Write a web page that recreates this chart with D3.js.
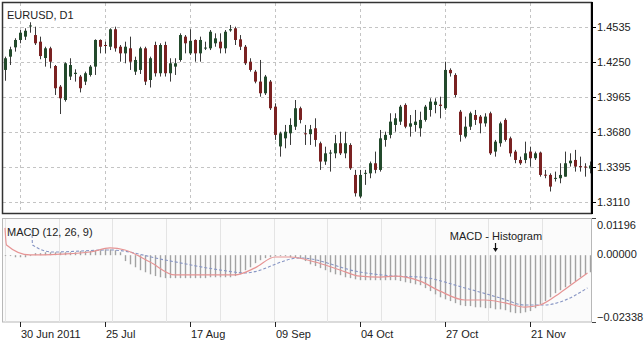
<!DOCTYPE html>
<html>
<head>
<meta charset="utf-8">
<script src="https://cdn.jsdelivr.net/npm/d3@7"></script>
<style>
  html, body { margin: 0; padding: 0; background: #fff; }
  text { font-family: "Liberation Sans", Arial, sans-serif; }
</style>
</head>
<body>
<svg id="chart" width="644" height="346"></svg>
<script>
// EURUSD daily candles, 27 Jun 2011 onwards (weekdays)
const open = [1.4183,1.4291,1.4367,1.4427,1.4454,1.4540,1.4467,1.4413,1.4280,1.4359,1.4215,1.4047,1.3938,1.4129,1.4150,1.4129,1.4088,1.4142,1.4210,1.4427,
  1.4386,1.4372,1.4514,1.4372,1.4318,1.4359,1.4169,1.4183,1.4359,1.4101,1.4386,1.4156,1.4386,1.4156,1.4210,1.4264,1.4454,1.4318,1.4427,1.4318,
  1.4359,1.4359,1.4400,1.4413,1.4359,1.4505,1.4522,1.4432,1.4372,1.4250,1.4169,1.4088,1.3993,1.4088,1.3884,1.3560,1.3626,1.3667,1.3721,1.3871,
  1.3667,1.3660,1.3708,1.3586,1.3437,1.3504,1.3504,1.3586,1.3504,1.3572,1.3328,1.3152,1.3340,1.3341,1.3423,1.3369,1.3613,1.3654,1.3735,1.3762,
  1.3898,1.3721,1.3735,1.3708,1.3776,1.3857,1.3898,1.3900,1.3871,1.4183,1.4142,1.3843,1.3640,1.3721,1.3816,1.3803,1.3748,1.3830,1.3518,1.3586,
  1.3776,1.3626,1.3518,1.3450,1.3450,1.3518,1.3464,1.3510,1.3330,1.3328,1.3298,1.3301,1.3314,1.3423,1.3450,1.3400,1.3396,1.3380];
const high = [1.4291,1.4372,1.4441,1.4508,1.4522,1.4571,1.4535,1.4454,1.4372,1.4372,1.4223,1.4060,1.4245,1.4278,1.4188,1.4142,1.4169,1.4223,1.4432,1.4432,
  1.4413,1.4522,1.4535,1.4386,1.4413,1.4454,1.4291,1.4372,1.4372,1.4291,1.4413,1.4400,1.4413,1.4278,1.4278,1.4481,1.4467,1.4514,1.4432,1.4454,
  1.4413,1.4508,1.4481,1.4481,1.4508,1.4549,1.4535,1.4467,1.4386,1.4278,1.4183,1.4264,1.4142,1.4101,1.3911,1.3680,1.3735,1.3789,1.3938,1.3884,
  1.3735,1.3735,1.3789,1.3599,1.3558,1.3532,1.3654,1.3680,1.3680,1.3586,1.3369,1.3369,1.3369,1.3437,1.3518,1.3694,1.3680,1.3830,1.3830,1.3898,
  1.3911,1.3816,1.3857,1.3843,1.3898,1.3952,1.3952,1.3965,1.4250,1.4196,1.4156,1.3857,1.3803,1.3843,1.3857,1.3816,1.3830,1.3843,1.3613,1.3762,
  1.3789,1.3640,1.3532,1.3477,1.3599,1.3558,1.3518,1.3518,1.3369,1.3341,1.3355,1.3423,1.3518,1.3504,1.3532,1.3477,1.3423,1.3437];
const low = [1.4095,1.4223,1.4332,1.4400,1.4427,1.4486,1.4386,1.4270,1.4210,1.4196,1.3979,1.3824,1.3925,1.4101,1.4088,1.4000,1.4060,1.4129,1.4142,1.4318,
  1.4318,1.4345,1.4332,1.4250,1.4237,1.4183,1.4142,1.4150,1.4060,1.4040,1.4129,1.4129,1.4129,1.4088,1.4142,1.4250,1.4318,1.4305,1.4250,1.4250,
  1.4345,1.4345,1.4372,1.4318,1.4318,1.4494,1.4386,1.4345,1.4223,1.4169,1.4074,1.3965,1.3979,1.3857,1.3613,1.3477,1.3545,1.3572,1.3694,1.3748,
  1.3572,1.3572,1.3558,1.3369,1.3410,1.3355,1.3464,1.3490,1.3464,1.3369,1.3152,1.3138,1.3247,1.3301,1.3341,1.3355,1.3558,1.3626,1.3680,1.3735,
  1.3708,1.3640,1.3680,1.3640,1.3762,1.3803,1.3830,1.3789,1.3857,1.4129,1.3960,1.3599,1.3626,1.3694,1.3735,1.3667,1.3721,1.3491,1.3477,1.3558,
  1.3599,1.3477,1.3423,1.3410,1.3423,1.3396,1.3450,1.3314,1.3301,1.3193,1.3274,1.3260,1.3314,1.3396,1.3355,1.3355,1.3314,1.3341];
const close = [1.4278,1.4351,1.4427,1.4486,1.4502,1.4545,1.4400,1.4296,1.4359,1.4250,1.4034,1.3952,1.4237,1.4223,1.4160,1.4034,1.4156,1.4210,1.4427,1.4372,
  1.4380,1.4514,1.4359,1.4318,1.4372,1.4250,1.4264,1.4359,1.4088,1.4278,1.4156,1.4386,1.4156,1.4237,1.4237,1.4467,1.4400,1.4420,1.4318,1.4427,
  1.4365,1.4494,1.4440,1.4359,1.4494,1.4515,1.4427,1.4372,1.4237,1.4183,1.4088,1.3993,1.4129,1.3871,1.3654,1.3667,1.3680,1.3735,1.3871,1.3776,
  1.3660,1.3700,1.3613,1.3437,1.3504,1.3510,1.3586,1.3504,1.3586,1.3382,1.3179,1.3328,1.3345,1.3423,1.3369,1.3626,1.3654,1.3762,1.3789,1.3884,
  1.3721,1.3748,1.3762,1.3776,1.3884,1.3925,1.3925,1.3890,1.4183,1.4156,1.3979,1.3654,1.3721,1.3830,1.3776,1.3748,1.3803,1.3504,1.3599,1.3748,
  1.3613,1.3504,1.3450,1.3423,1.3504,1.3464,1.3504,1.3328,1.3325,1.3233,1.3304,1.3328,1.3423,1.3444,1.3396,1.3392,1.3390,1.3405];

// MACD histogram, one bar per candle
const histogram = [-0.0003,-0.0003,-0.0007,-0.0007,-0.0007,-0.0003,
  0.0007,0.0007,0.0010,0.0010,0.0010,0.0010,0.0010,0.0010,0.0010,0.0014,0.0014,0.0014,0.0017,0.0017,
  0.0020,0.0020,0.0017,0.0010,
  -0.0020,-0.0031,-0.0041,-0.0051,-0.0058,-0.0065,
  -0.0071,-0.0075,-0.0078,-0.0078,-0.0078,-0.0078,-0.0078,-0.0078,-0.0078,-0.0078,-0.0078,-0.0075,
  -0.0075,-0.0075,-0.0075,-0.0075,-0.0071,
  -0.0065,-0.0051,-0.0041,-0.0027,-0.0017,-0.0010,
  -0.0007,-0.0003,-0.0003,-0.0003,-0.0007,
  -0.0007,-0.0010,-0.0020,-0.0031,-0.0037,-0.0044,-0.0051,-0.0058,-0.0065,-0.0068,-0.0075,-0.0078,-0.0082,-0.0085,
  -0.0085,-0.0085,-0.0085,-0.0085,-0.0085,-0.0085,-0.0085,-0.0088,-0.0092,
  -0.0095,-0.0099,-0.0102,-0.0112,-0.0122,-0.0133,-0.0143,-0.0150,-0.0156,-0.0163,-0.0170,
  -0.0173,-0.0173,-0.0177,-0.0177,
  -0.0180,-0.0180,-0.0184,-0.0184,
  -0.0187,-0.0194,-0.0197,
  -0.0197,-0.0194,-0.0190,
  -0.0180,-0.0167,-0.0156,-0.0143,-0.0129,-0.0119,-0.0109,-0.0099,-0.0088,-0.0075,-0.0065,-0.0058];

// MACD main line (read at candle positions)
const macdIdx = [1, 1.3, 6, 12, 18, 22, 25, 30, 35, 40, 47, 51, 55, 58, 63, 68, 72, 76, 79, 84, 88, 93, 97, 101, 105, 108, 112, 115, 117.5];
const macdVal = [0.0086, 0.0028, -0.0006, -0.0003, 0.0004, 0.0018, 0.0011, -0.0030, -0.0074, -0.0074, -0.0074, -0.0050, -0.0013, -0.0013,
  -0.0030, -0.0057, -0.0078, -0.0081, -0.0078, -0.0095, -0.0129, -0.0159, -0.0159, -0.0169, -0.0183, -0.0176, -0.0135, -0.0098, -0.0067];

// Signal line
const signalIdx = [6.4, 6.5, 10.6, 22, 33, 44, 49, 60, 72, 79, 84, 93, 100, 105, 109, 112, 117.5];
const signalVal = [0.0079, 0.0028, 0.0004, 0.0011, -0.0023, -0.0057, -0.0067, -0.0016, -0.0064, -0.0078, -0.0081, -0.0118, -0.0152,
  -0.0176, -0.0176, -0.0166, -0.0118];

// Axis ticks
const priceTicks = [1.4535, 1.4250, 1.3965, 1.3680, 1.3395, 1.3110];
const macdTicks = [0.01196, 0.0, -0.02338];
const dateTicks = ['2011-06-30', '2011-07-25', '2011-08-17', '2011-09-09', '2011-10-04', '2011-10-27', '2011-11-21'];

const svg = d3.select('#chart');
svg.append('rect').attr('width', 644).attr('height', 346).attr('fill', '#fff');

// Trading days (weekdays) from the first candle
const start = new Date(2011, 5, 27);
const dates = d3.timeDay.range(start, d3.timeDay.offset(start, 200))
  .filter(d => d.getDay() !== 0 && d.getDay() !== 6)
  .slice(0, open.length);
const fmtKey = d3.timeFormat('%Y-%m-%d');
const tickIdx = dateTicks.map(t => dates.findIndex(d => fmtKey(d) === t));

const x = d3.scaleLinear().domain([0, 118.2]).range([0, 591]);
const y = d3.scaleLinear().domain([1.3018, 1.4728]).range([213, 3]);
const ym = d3.scaleLinear().domain([-0.02338, 0.01196]).range([322, 218]);

const defs = svg.append('defs');
defs.append('clipPath').attr('id', 'clipMain')
  .append('rect').attr('x', 3).attr('y', 3).attr('width', 588).attr('height', 210);
defs.append('clipPath').attr('id', 'clipMacd')
  .append('rect').attr('x', 3).attr('y', 219).attr('width', 588).attr('height', 103);

// ---- Main panel ----
const grid = svg.append('g').attr('stroke', '#c4c4c4').attr('stroke-dasharray', '3,3').attr('stroke-width', 1);
grid.selectAll('line.h').data(priceTicks).enter().append('line')
  .attr('x1', 3).attr('x2', 591)
  .attr('y1', d => Math.round(y(d)) + 0.5).attr('y2', d => Math.round(y(d)) + 0.5);
grid.selectAll('line.v').data(tickIdx).enter().append('line')
  .attr('x1', d => Math.round(x(d + 1)) + 0.5).attr('x2', d => Math.round(x(d + 1)) + 0.5)
  .attr('y1', 3).attr('y2', 213);

const candles = svg.append('g').attr('clip-path', 'url(#clipMain)')
  .selectAll('g.candle').data(open.map((o, i) => ({ o, h: high[i], l: low[i], c: close[i], i })))
  .enter().append('g').attr('class', 'candle');

candles.append('line')
  .attr('x1', d => Math.round(x(d.i + 1)) + 0.5).attr('x2', d => Math.round(x(d.i + 1)) + 0.5)
  .attr('y1', d => y(d.h)).attr('y2', d => y(d.l))
  .attr('stroke', '#3a3a3a').attr('stroke-width', 1);

candles.append('rect')
  .attr('x', d => Math.round(x(d.i + 1)) - 1)
  .attr('width', 3)
  .attr('y', d => y(Math.max(d.o, d.c)))
  .attr('height', d => Math.max(1, Math.abs(y(d.o) - y(d.c))))
  .attr('fill', d => d.c >= d.o ? '#234a2c' : '#7a2222');

// frame + price axis
svg.append('rect').attr('x', 2.5).attr('y', 2.5).attr('width', 589).attr('height', 211)
  .attr('fill', 'none').attr('stroke', '#333').attr('stroke-width', 1.5);
svg.append('line').attr('x1', 592).attr('x2', 592).attr('y1', 2).attr('y2', 214)
  .attr('stroke', '#000').attr('stroke-width', 2);

const priceAxis = svg.append('g');
priceAxis.selectAll('line').data(priceTicks).enter().append('line')
  .attr('x1', 592).attr('x2', 596)
  .attr('y1', d => Math.round(y(d)) + 0.5).attr('y2', d => Math.round(y(d)) + 0.5)
  .attr('stroke', '#000');
priceAxis.selectAll('text').data(priceTicks).enter().append('text')
  .attr('x', 597).attr('y', d => y(d)).attr('dy', '0.35em')
  .attr('font-size', 11).attr('fill', '#222')
  .text(d => d3.format('.4f')(d));

svg.append('text').attr('x', 7).attr('y', 19).attr('font-size', 11).attr('fill', '#222').text('EURUSD, D1');

// ---- MACD panel ----
svg.append('rect').attr('x', 2.5).attr('y', 218.5).attr('width', 589).attr('height', 103.5)
  .attr('fill', '#fbfbfb').attr('stroke', '#b8b8b8');

svg.append('g').selectAll('line').data(d3.range(5, 591, 53.7)).enter().append('line')
  .attr('x1', d => Math.round(d) + 0.5).attr('x2', d => Math.round(d) + 0.5)
  .attr('y1', 219).attr('y2', 322)
  .attr('stroke', '#e4e4e4');

const macdG = svg.append('g').attr('clip-path', 'url(#clipMacd)');

macdG.selectAll('line.bar').data(histogram).enter().append('line')
  .attr('class', 'bar')
  .attr('x1', (d, i) => Math.round(x(i + 1)) + 0.5).attr('x2', (d, i) => Math.round(x(i + 1)) + 0.5)
  .attr('y1', ym(0) + 2).attr('y2', d => ym(d) + 2)
  .attr('stroke', '#a2a2a2').attr('stroke-width', 1.4);

const line = d3.line()
  .x(d => x(d[0]))
  .y(d => ym(d[1]))
  .curve(d3.curveMonotoneX);

macdG.append('path')
  .datum(signalIdx.map((v, i) => [v, signalVal[i]]))
  .attr('fill', 'none').attr('stroke', '#8795c4').attr('stroke-width', 1.1)
  .attr('stroke-dasharray', '3,2')
  .attr('d', line);

macdG.append('path')
  .datum(macdIdx.map((v, i) => [v, macdVal[i]]))
  .attr('fill', 'none').attr('stroke', '#e69494').attr('stroke-width', 1.2)
  .attr('d', line);

const macdAxis = svg.append('g');
macdAxis.selectAll('line').data([macdTicks[0], macdTicks[2]]).enter().append('line')
  .attr('x1', 592).attr('x2', 596)
  .attr('y1', d => Math.round(ym(d)) + 0.5).attr('y2', d => Math.round(ym(d)) + 0.5)
  .attr('stroke', '#444');
macdAxis.selectAll('text').data(macdTicks).enter().append('text')
  .attr('x', 597)
  .attr('y', (d, i) => ym(d) + [7, 0.5, -5][i])
  .attr('dy', '0.35em')
  .attr('font-size', 11).attr('fill', '#222')
  .text(d => d3.format('.5f')(d));

svg.append('text').attr('x', 7).attr('y', 236).attr('font-size', 11).attr('fill', '#222').text('MACD (12, 26, 9)');
svg.append('text').attr('x', 496).attr('y', 240).attr('text-anchor', 'middle')
  .attr('font-size', 11).attr('fill', '#222').text('MACD - Histogram');
// arrow pointing at the bars
svg.append('line').attr('x1', 495.5).attr('x2', 495.5).attr('y1', 243).attr('y2', 250)
  .attr('stroke', '#111').attr('stroke-width', 1.2);
svg.append('path').attr('d', 'M493,248 L498,248 L495.5,252 Z').attr('fill', '#111');

// ---- Date axis ----
const fmtFirst = d3.timeFormat('%d %b %Y');
const fmtDay = d3.timeFormat('%d %b');
const dateAxis = svg.append('g');
dateAxis.selectAll('line').data(tickIdx).enter().append('line')
  .attr('x1', d => Math.round(x(d + 1)) + 0.5).attr('x2', d => Math.round(x(d + 1)) + 0.5)
  .attr('y1', 322).attr('y2', 327)
  .attr('stroke', '#222');
dateAxis.selectAll('text').data(tickIdx).enter().append('text')
  .attr('x', d => Math.round(x(d + 1)) + 1).attr('y', 338)
  .attr('font-size', 11).attr('fill', '#222')
  .text((d, i) => i === 0 ? fmtFirst(dates[d]) : fmtDay(dates[d]));
</script>
</body>
</html>
